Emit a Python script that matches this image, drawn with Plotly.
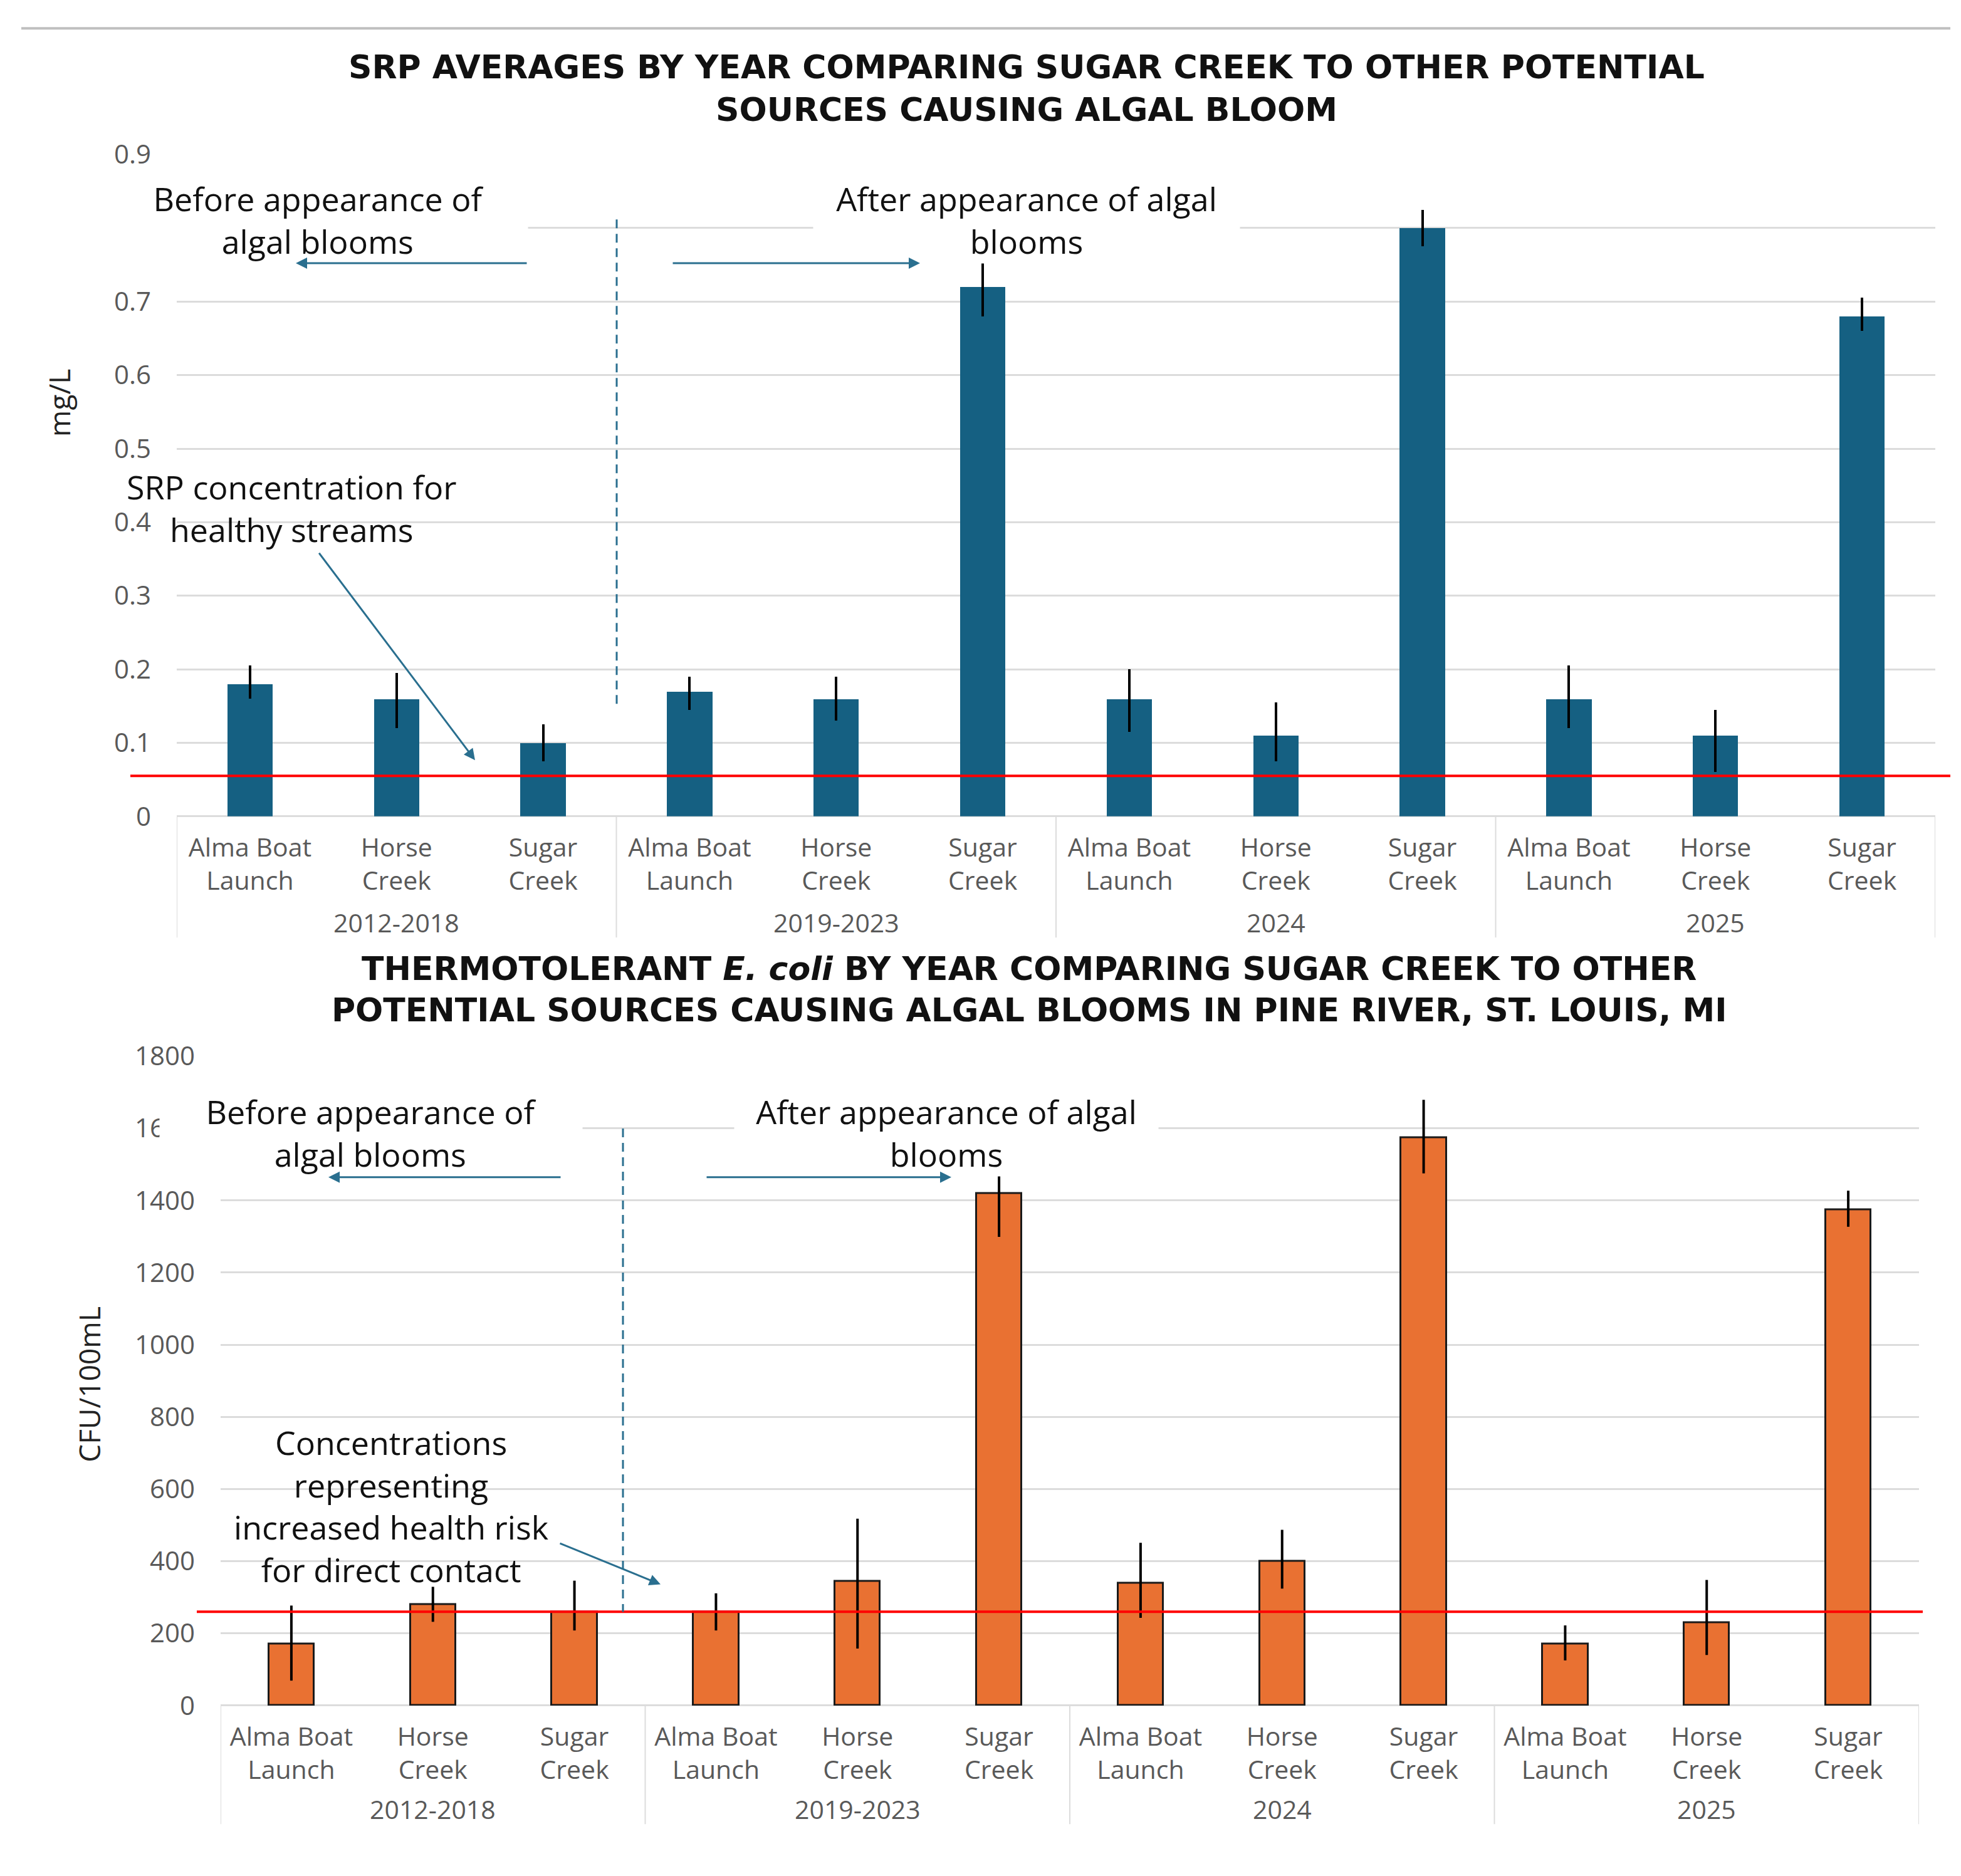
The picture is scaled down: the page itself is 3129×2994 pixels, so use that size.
import plotly.graph_objects as go

# ---------------- data ----------------
groups = ["2012-2018", "2019-2023", "2024", "2025"]
sites = ["Alma Boat<br>Launch", "Horse<br>Creek", "Sugar<br>Creek"]

srp_mean = [0.18, 0.16, 0.10, 0.17, 0.16, 0.72, 0.16, 0.11, 0.80, 0.16, 0.11, 0.68]
srp_err_plus = [0.025, 0.035, 0.025, 0.02, 0.03, 0.045, 0.04, 0.045, 0.025, 0.045, 0.035, 0.025]
srp_err_minus = [0.02, 0.04, 0.025, 0.025, 0.03, 0.04, 0.045, 0.035, 0.025, 0.04, 0.05, 0.02]
srp_threshold = 0.055

ecoli_mean = [170, 280, 260, 260, 345, 1420, 340, 400, 1575, 170, 230, 1375]
ecoli_err_plus = [107, 49, 86, 51, 173, 87, 111, 87, 104, 52, 118, 52]
ecoli_err_minus = [101, 48, 52, 52, 187, 121, 97, 76, 100, 45, 90, 48]
ecoli_threshold = 260

srp_ticks = [0, 0.1, 0.2, 0.3, 0.4, 0.5, 0.6, 0.7, 0.8, 0.9]
ecoli_ticks = [0, 200, 400, 600, 800, 1000, 1200, 1400, 1600, 1800]

# ---------------- derived ----------------
cat_labels = [s for g in groups for s in sites]
xpos = list(range(len(cat_labels)))
group_centers = [i * len(sites) + (len(sites) - 1) / 2 for i in range(len(groups))]
group_bounds = [i * len(sites) - 0.5 for i in range(len(groups) + 1)]

W, H = 3129, 2994
FONT = "Open Sans"
TITLE_FONT = "DejaVu Sans"
BLUE = "#156082"
ORANGE = "#E97132"
ARROW = "#2A6F8F"
GRID = "#DCDCDC"
TICK = "#595959"

# layout helpers (positions measured on a half-size view of the reference)
YOFF, YSC, XOFF = 36.7, 0.9844, 10.0

def px(xd):
    return (2 * xd - XOFF) / W

def py(yd):
    return 1 - ((2 * yd - YOFF) / YSC) / H

fig = go.Figure()

fig.add_trace(go.Bar(
    x=xpos, y=srp_mean, width=0.31, marker=dict(color=BLUE, line=dict(width=0)),
    error_y=dict(type="data", array=srp_err_plus, arrayminus=srp_err_minus,
                 color="black", thickness=4, width=0),
    xaxis="x", yaxis="y", showlegend=False))

fig.add_trace(go.Bar(
    x=xpos, y=ecoli_mean, width=0.32, marker=dict(color=ORANGE, line=dict(width=3, color="#1A1A1A")),
    error_y=dict(type="data", array=ecoli_err_plus, arrayminus=ecoli_err_minus,
                 color="black", thickness=4, width=0),
    xaxis="x2", yaxis="y2", showlegend=False))

xcommon = dict(range=[-0.5, len(cat_labels) - 0.5], tickmode="array", tickvals=xpos,
               ticktext=cat_labels, showgrid=False, zeroline=False, showline=False,
               ticks="", tickfont=dict(family=FONT, size=41, color=TICK),
               ticklabelstandoff=22, fixedrange=True)
ycommon = dict(showgrid=True, gridcolor=GRID, gridwidth=3, zeroline=True, zerolinecolor=GRID,
               zerolinewidth=3, showline=False, ticks="",
               tickfont=dict(family=FONT, size=42, color=TICK), ticklabelstandoff=40)

fig.update_layout(
    width=W, height=H, margin=dict(l=0, r=0, t=0, b=0),
    paper_bgcolor="white", plot_bgcolor="white", bargap=0,
    xaxis=dict(domain=[px(142), px(1545)], anchor="y", **xcommon),
    yaxis=dict(domain=[py(653), py(123)], range=[0, 0.9], tickvals=srp_ticks,
               ticktext=[("0" if v == 0 else f"{v:.1f}") for v in srp_ticks], anchor="x", **ycommon),
    xaxis2=dict(domain=[px(177), px(1532)], anchor="y2", **xcommon),
    yaxis2=dict(domain=[py(1365), py(845)], range=[0, 1800], tickvals=ecoli_ticks,
                ticktext=[str(v) for v in ecoli_ticks], anchor="x2", **ycommon),
)

shapes = []
# top separator rule
shapes.append(dict(type="line", xref="paper", yref="paper", x0=px(18), x1=px(1557),
                   y0=py(22), y1=py(22), line=dict(color="#BFBFBF", width=4)))
# group dividers
for b in group_bounds:
    shapes.append(dict(type="line", xref="x", yref="paper", x0=b, x1=b, y0=py(653), y1=py(750),
                       line=dict(color=GRID, width=2)))
    shapes.append(dict(type="line", xref="x2", yref="paper", x0=b, x1=b, y0=py(1365), y1=py(1460),
                       line=dict(color=GRID, width=2)))
# threshold lines
shapes.append(dict(type="line", xref="paper", yref="y", x0=px(105), x1=px(1557),
                   y0=srp_threshold, y1=srp_threshold, line=dict(color="#FF0000", width=4)))
shapes.append(dict(type="line", xref="paper", yref="y2", x0=px(158), x1=px(1535),
                   y0=ecoli_threshold, y1=ecoli_threshold, line=dict(color="#FF0000", width=4)))
# dashed dividers before/after
shapes.append(dict(type="line", xref="paper", yref="paper", x0=px(493), x1=px(493),
                   y0=py(175), y1=py(565), line=dict(color=ARROW, width=3, dash="14px,9px")))
shapes.append(dict(type="line", xref="paper", yref="paper", x0=px(498), x1=px(498),
                   y0=py(903), y1=py(1290), line=dict(color=ARROW, width=3, dash="14px,9px")))
fig.update_layout(shapes=shapes)

ann = []
def text(x, y, s, size=52, family=FONT, bg=None, width=None, color="#111111", angle=0):
    d = dict(xref="paper", yref="paper", x=x, y=y, text=s, showarrow=False,
             font=dict(family=family, size=size, color=color), xanchor="center", yanchor="middle",
             textangle=angle, borderpad=0)
    if bg:
        d["bgcolor"] = bg
    if width:
        d["width"] = width
    ann.append(d)

# titles
text(px(820), py(53), "<b>SRP AVERAGES BY YEAR COMPARING SUGAR CREEK TO OTHER POTENTIAL</b>", size=52, family=TITLE_FONT)
text(px(820), py(87), "<b>SOURCES CAUSING ALGAL BLOOM</b>", size=52, family=TITLE_FONT)
text(px(822), py(775), "<b>THERMOTOLERANT <i>E. coli</i> BY YEAR COMPARING SUGAR CREEK TO OTHER</b>", size=52, family=TITLE_FONT)
text(px(822), py(808), "<b>POTENTIAL SOURCES CAUSING ALGAL BLOOMS IN PINE RIVER, ST. LOUIS, MI</b>", size=52, family=TITLE_FONT)

# axis titles
text(px(48), py(322), "mg/L", size=46, angle=-90, color="#222222")
text(px(72), py(1108), "CFU/100mL", size=46, angle=-90, color="#222222")

# before / after boxes (white fill hides gridline as in the reference)
text(px(255), py(175), "Before appearance of<br>algal blooms", bg="white", width=2 * 334)
text(px(820), py(175), "After appearance of algal<br>blooms", bg="white", width=2 * 340)
text(px(297), py(906), "Before appearance of<br>algal blooms", bg="white", width=2 * 337)
text(px(756), py(906), "After appearance of algal<br>blooms", bg="white", width=2 * 338)

# threshold notes
text(px(234), py(406), "SRP concentration for<br>healthy streams", size=52)
text(px(313), py(1205), "Concentrations<br>representing<br>increased health risk<br>for direct contact", size=52)

# group labels
for c, g in zip(group_centers, groups):
    ann.append(dict(xref="x", yref="paper", x=c, y=py(738), text=g, showarrow=False,
                    font=dict(family=FONT, size=41, color=TICK), yanchor="middle"))
    ann.append(dict(xref="x2", yref="paper", x=c, y=py(1448), text=g, showarrow=False,
                    font=dict(family=FONT, size=41, color=TICK), yanchor="middle"))

# arrows
def arrow(hx, hy, tx, ty):
    ann.append(dict(xref="paper", yref="paper", x=px(hx), y=py(hy), ax=2 * (tx - hx), ay=2 * (ty - hy),
                    axref="pixel", ayref="pixel", text="", showarrow=True, arrowhead=2,
                    arrowsize=1.2, arrowwidth=3, arrowcolor=ARROW))

arrow(237, 210, 422, 210)
arrow(735, 210, 537, 210)
arrow(380, 608, 255, 442)
arrow(263, 942, 449, 942)
arrow(760, 942, 564, 942)
arrow(528, 1268, 447, 1235)

fig.update_layout(annotations=ann)
fig.write_html("out.html")
